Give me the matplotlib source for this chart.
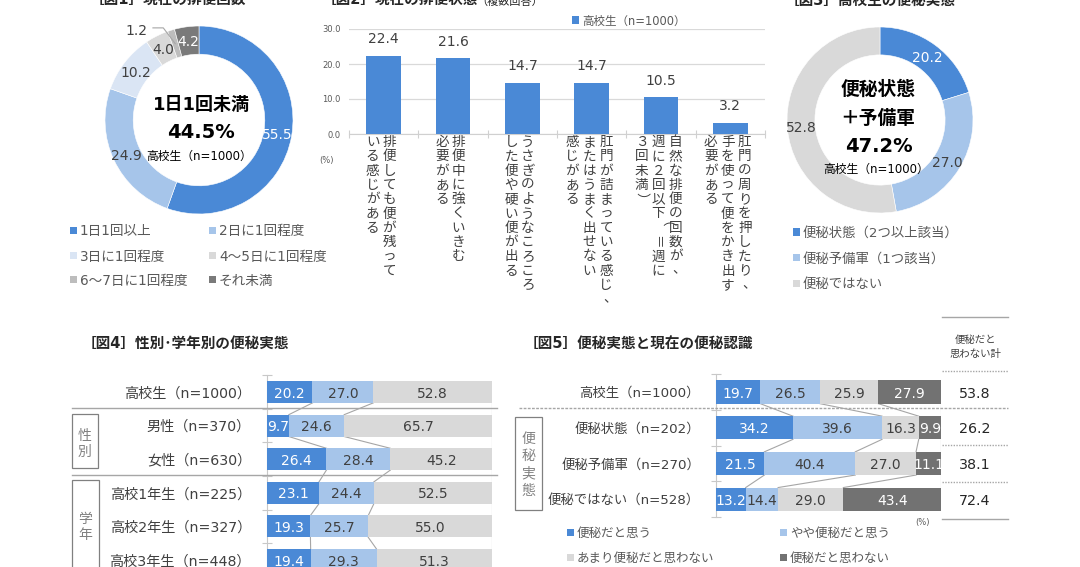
import matplotlib
matplotlib.use('Agg')
import matplotlib.pyplot as plt
import matplotlib.transforms as mtransforms
from matplotlib.patches import Rectangle
from matplotlib.lines import Line2D
import numpy as np

plt.rcParams['font.family'] = ['DejaVu Sans', 'Noto Sans CJK JP']

# ---------------- data ----------------
fig1_labels = ['1日1回以上', '2日に1回程度', '3日に1回程度', '4～5日に1回程度', '6～7日に1回程度', 'それ未満']
fig1_values = [55.5, 24.9, 10.2, 4.0, 1.2, 4.2]

fig2_series = '高校生（n=1000）'
fig2_categories = [
    ['排便しても便が残って', 'いる感じがある'],
    ['排便中に強くいきむ', '必要がある'],
    ['うさぎのようなころころ', 'した便や硬い便が出る'],
    ['肛門が詰まっている感じ、', 'またはうまく出せない', '感じがある'],
    ['自然な排便の回数が、', '週に２回以下（＝週に', '３回未満）'],
    ['肛門の周りを押したり、', '手を使って便をかき出す', '必要がある'],
]
fig2_values = [22.4, 21.6, 14.7, 14.7, 10.5, 3.2]
fig2_ticks = [0, 10, 20, 30]

fig3_labels = ['便秘状態（2つ以上該当）', '便秘予備軍（1つ該当）', '便秘ではない']
fig3_values = [20.2, 27.0, 52.8]

fig4_rows = ['高校生（n=1000）', '男性（n=370）', '女性（n=630）',
             '高校1年生（n=225）', '高校2年生（n=327）', '高校3年生（n=448）']
fig4_constip = [20.2, 9.7, 26.4, 23.1, 19.3, 19.4]
fig4_prelim = [27.0, 24.6, 28.4, 24.4, 25.7, 29.3]
fig4_not = [52.8, 65.7, 45.2, 52.5, 55.0, 51.3]

fig5_rows = ['高校生（n=1000）', '便秘状態（n=202）', '便秘予備軍（n=270）', '便秘ではない（n=528）']
fig5_legend = ['便秘だと思う', 'やや便秘だと思う', 'あまり便秘だと思わない', '便秘だと思わない']
fig5_think = [19.7, 34.2, 21.5, 13.2]
fig5_somewhat = [26.5, 39.6, 40.4, 14.4]
fig5_notmuch = [25.9, 16.3, 27.0, 29.0]
fig5_not = [27.9, 9.9, 11.1, 43.4]

# ---------------- style ----------------
BLUE = '#4A89D6'
LBLUE = '#A6C5EA'
VLBLUE = '#DAE5F4'
LGREY = '#D9D9D9'
MGREY = '#BDBDBD'
DGREY = '#7A7A7A'
DGREY5 = '#727272'
TXT = '#404040'
LEG = '#595959'
LINE = '#A6A6A6'
DARK = '#262626'

W, H = 1080, 567
fig = plt.figure(figsize=(W / 100, H / 100), dpi=100)
fig.patch.set_facecolor('white')


def fx(x):
    return x / W


def fy(y):
    return 1 - y / H


def add_ax(x0, y0, x1, y1):
    return fig.add_axes([x0 / W, 1 - y1 / H, (x1 - x0) / W, (y1 - y0) / H])


def ftext(x, y, s, **kw):
    kw.setdefault('va', 'center_baseline')
    return fig.text(fx(x), fy(y), s, **kw)


def fline(xs, ys, **kw):
    fig.add_artist(Line2D([fx(x) for x in xs], [fy(y) for y in ys],
                          transform=fig.transFigure, **kw))


def frect(x0, y0, x1, y1, **kw):
    fig.add_artist(Rectangle((fx(x0), fy(y1)), (x1 - x0) / W, (y1 - y0) / H,
                             transform=fig.transFigure, **kw))


def legend_item(x, y, color, label, size=10):
    frect(x - 3.5, y - 3.5, x + 3.5, y + 3.5, facecolor=color, edgecolor='none')
    ftext(x + 7, y, label, ha='left', fontsize=size, color=LEG)


def donut(ax, values, colors):
    wedges, _ = ax.pie(values, colors=colors, startangle=90, counterclock=False,
                       radius=1, wedgeprops=dict(width=0.3, edgecolor='white', linewidth=0.4))
    ax.set_xlim(-1, 1)
    ax.set_ylim(-1, 1)
    pos = []
    for w in wedges:
        th = np.deg2rad((w.theta1 + w.theta2) / 2)
        pos.append((0.85 * np.cos(th), 0.85 * np.sin(th)))
    return wedges, pos


# ================= Fig 1 =================
ftext(90, 5, '［図1］現在の排便回数', ha='left', va='baseline', fontsize=10.5,
      fontweight='bold', color=DARK)
ax1 = add_ax(105, 26, 293, 214)
cols1 = [BLUE, LBLUE, VLBLUE, LGREY, MGREY, DGREY]
tcol1 = ['white', TXT, TXT, TXT, TXT, 'white']
w1, p1 = donut(ax1, fig1_values, cols1)
for i, (v, (x, y)) in enumerate(zip(fig1_values, p1)):
    if i == 4:
        ax1.text(-0.55, 0.96, f'{v:.1f}', ha='right', va='center_baseline', fontsize=10, color=TXT)
        ax1.plot([-0.49, -0.38, x], [0.98, 0.98, y], color=LINE, lw=0.8)
    else:
        ax1.text(x, y, f'{v:.1f}', ha='center', va='center_baseline', fontsize=10, color=tcol1[i])
ftext(201, 103, '1日1回未満', ha='center', fontsize=13, fontweight='bold', color='black')
ftext(201, 131, f'{sum(fig1_values[1:]):.1f}%', ha='center', fontsize=14, fontweight='bold', color='black')
ftext(199, 155, '高校生（n=1000）', ha='center', fontsize=8.5, color='black')
leg1_pos = [(73, 230), (212, 230), (73, 255), (212, 255), (73, 279), (212, 279)]
for (x, y), c, lab in zip(leg1_pos, cols1, fig1_labels):
    legend_item(x, y, c, lab, size=9.8)

# ================= Fig 2 =================
ftext(322, 5, '［図2］現在の排便状態', ha='left', va='baseline', fontsize=10.5,
      fontweight='bold', color=DARK)
ftext(476, 5, '（複数回答）', ha='left', va='baseline', fontsize=8, color=DARK)
ax2 = add_ax(349, 29, 765, 134)
x2 = np.arange(len(fig2_values))
ax2.bar(x2, fig2_values, width=0.5, color=BLUE, zorder=3)
for xi, v in zip(x2, fig2_values):
    ax2.annotate(f'{v:.1f}', (xi, v), xytext=(0, 7), textcoords='offset points',
                 ha='center', va='bottom', fontsize=10, color=TXT)
ax2.set_xlim(-0.5, len(fig2_values) - 0.5)
ax2.set_ylim(0, 30)
ax2.set_yticks(fig2_ticks)
ax2.set_yticklabels([f'{t:.1f}' for t in fig2_ticks], fontsize=6, color=LEG)
ax2.tick_params(axis='y', length=0, pad=6)
ax2.set_xticks(np.arange(-0.5, len(fig2_values), 1))
ax2.set_xticklabels([])
ax2.tick_params(axis='x', direction='inout', length=6, color='#D0D0D0', width=0.8)
ax2.grid(axis='y', color='#D9D9D9', lw=0.9, zorder=0)
for s in ['top', 'right', 'left']:
    ax2.spines[s].set_visible(False)
ax2.spines['bottom'].set_color('#D0D0D0')
ftext(327, 160, '(%)', ha='center', fontsize=6, color=LEG)
legend_item(575, 20, BLUE, fig2_series, size=8.3)

trans2 = mtransforms.blended_transform_factory(ax2.transData, fig.transFigure)
ppu = (765 - 349) / len(fig2_values)
for i, cols in enumerate(fig2_categories):
    offs = [5.5, -11] if len(cols) == 2 else [14.5, -2.5, -19.5]
    for col, off in zip(cols, offs):
        for j, ch in enumerate(col):
            rot, dx, dy = 0, 0, 0
            if ch in '（）＝ー':
                rot = -90
            if ch in '、。':
                dx, dy = 4, -2
            ax2.text(i + (off + dx) / ppu, fy(142 + j * 14.3 + dy), ch, transform=trans2,
                     ha='center', va='center', rotation=rot, fontsize=9.8, color=TXT,
                     clip_on=False)

# ================= Fig 3 =================
ftext(785, 5, '［図3］高校生の便秘実態', ha='left', va='baseline', fontsize=10.5,
      fontweight='bold', color=DARK)
ax3 = add_ax(787, 27, 973, 213)
cols3 = [BLUE, LBLUE, LGREY]
tcol3 = ['white', TXT, TXT]
w3, p3 = donut(ax3, fig3_values, cols3)
for (x, y), v, c in zip(p3, fig3_values, tcol3):
    ax3.text(x, y, f'{v:.1f}', ha='center', va='center_baseline', fontsize=10, color=c)
ftext(878, 87, '便秘状態', ha='center', fontsize=13.5, fontweight='bold', color='black')
ftext(878, 116, '＋予備軍', ha='center', fontsize=13.5, fontweight='bold', color='black')
ftext(879, 145, f'{fig3_values[0] + fig3_values[1]:.1f}%', ha='center', fontsize=14,
      fontweight='bold', color='black')
ftext(876, 168, '高校生（n=1000）', ha='center', fontsize=8.5, color='black')
for k, (c, lab) in enumerate(zip(cols3, fig3_labels)):
    legend_item(796, 232 + k * 25.5, c, lab, size=9.6)


# ================= stacked bar helper =================
def stacked(ax, rows, series, colors, tcolors, pad, lsize):
    n = len(rows)
    y = np.arange(n)
    h = 0.65
    left = np.zeros(n)
    cums = []
    for vals, c, tc in zip(series, colors, tcolors):
        vals = np.array(vals)
        ax.barh(y, vals, left=left, height=h, color=c, zorder=3)
        for yi, v, l in zip(y, vals, left):
            ax.text(l + v / 2, yi, f'{v:.1f}', ha='center', va='center_baseline',
                    fontsize=10, color=tc, zorder=4)
        left = left + vals
        cums.append(left.copy())
    for cum in cums:
        for i in range(n - 1):
            ax.plot([cum[i], cum[i + 1]], [i + h / 2, i + 1 - h / 2], color=LINE, lw=0.8, zorder=2)
    ax.set_xlim(0, 100)
    ax.set_ylim(n - 0.5, -0.5)
    ax.set_xticks([])
    ax.set_yticks(np.arange(-0.5, n, 1))
    ax.set_yticklabels([])
    ax.tick_params(axis='y', which='major', direction='inout', length=7, color='#C8C8C8', width=0.8)
    ax.set_yticks(y, minor=True)
    ax.set_yticklabels(rows, minor=True, fontsize=lsize, color=TXT)
    ax.tick_params(axis='y', which='minor', length=0, pad=pad)
    for s in ['top', 'right', 'bottom']:
        ax.spines[s].set_visible(False)
    ax.spines['left'].set_color('#C8C8C8')
    ax.patch.set_alpha(0)
    return y


# ================= Fig 4 =================
ftext(82, 342, '［図4］性別･学年別の便秘実態', ha='left', fontsize=10.5, fontweight='bold', color=DARK)
ax4 = add_ax(267, 375.2, 492, 576.8)
stacked(ax4, fig4_rows, [fig4_constip, fig4_prelim, fig4_not],
        [BLUE, LBLUE, LGREY], ['white', TXT, TXT], pad=11.5, lsize=10.2)
fline([72, 497], [407.5, 407.5], color=LINE, lw=1)
fline([72, 497], [474.5, 474.5], color=LINE, lw=1)
frect(72, 414, 98, 468, fill=False, edgecolor='#808080', lw=0.9)
ftext(85, 436, '性', ha='center', va='center', fontsize=10, color='#808080')
ftext(85, 452, '別', ha='center', va='center', fontsize=10, color='#808080')
frect(72, 480, 99, 640, fill=False, edgecolor='#808080', lw=0.9)
ftext(85.5, 519, '学', ha='center', va='center', fontsize=10, color='#808080')
ftext(85.5, 535, '年', ha='center', va='center', fontsize=10, color='#808080')

# ================= Fig 5 =================
ftext(524, 343, '［図5］便秘実態と現在の便秘認識', ha='left', fontsize=10.5, fontweight='bold', color=DARK)
ax5 = add_ax(716, 374.2, 941, 517)
cols5 = [BLUE, LBLUE, LGREY, DGREY5]
y5 = stacked(ax5, fig5_rows, [fig5_think, fig5_somewhat, fig5_notmuch, fig5_not],
             cols5, ['white', TXT, TXT, 'white'], pad=11.5, lsize=9.6)
fig5_total = [a + b for a, b in zip(fig5_notmuch, fig5_not)]
trans5 = mtransforms.blended_transform_factory(fig.transFigure, ax5.transData)
for yi, t in zip(y5, fig5_total):
    ax5.text(fx(975), yi, f'{t:.1f}', transform=trans5, ha='center', va='center_baseline',
             fontsize=10.3, color=DARK, clip_on=False)
fline([519, 1008], [407.5, 407.5], color=LINE, lw=1, ls=(0, (2, 1)))
frect(515, 417, 542, 510, fill=False, edgecolor='#808080', lw=0.9)
for k, ch in enumerate('便秘実態'):
    ftext(528.5, 439 + k * 17.3, ch, ha='center', va='center', fontsize=10, color='#808080')
fline([942, 1008], [317, 317], color=LINE, lw=1)
ftext(975, 339, '便秘だと', ha='center', fontsize=7.5, color=TXT)
ftext(975, 353, '思わない計', ha='center', fontsize=7.5, color=TXT)
fline([942, 1008], [371, 371], color=LINE, lw=1, ls=(0, (1, 1)))
fline([942, 1008], [445, 445], color=LINE, lw=1, ls=(0, (1, 1)))
fline([942, 1008], [482, 482], color=LINE, lw=1, ls=(0, (1, 1)))
fline([942, 1008], [519, 519], color=LINE, lw=1)
ftext(923, 522, '(%)', ha='center', fontsize=6, color=LEG)
leg5_pos = [(570, 532), (783, 532), (570, 557), (783, 557)]
for (x, y), c, lab in zip(leg5_pos, cols5, fig5_legend):
    legend_item(x, y, c, lab, size=9)

fig.savefig('out.png', dpi=100, facecolor='white')
